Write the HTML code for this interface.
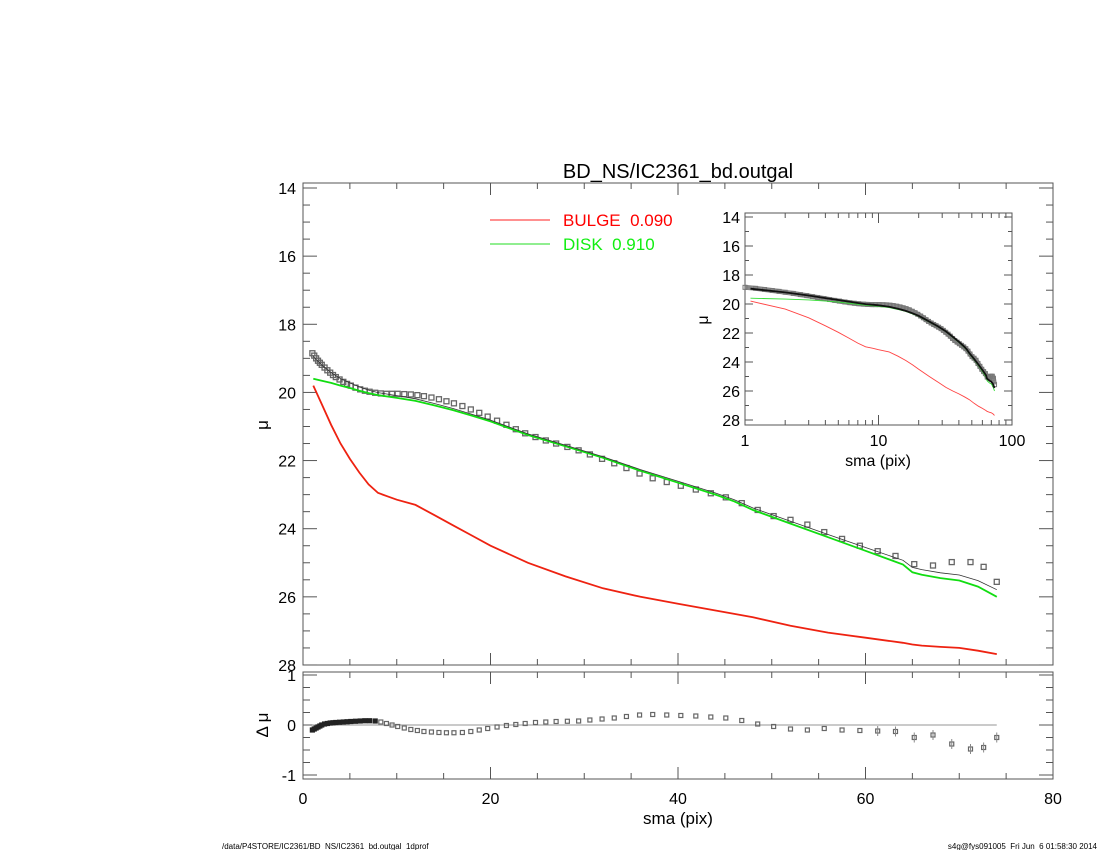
<!DOCTYPE html>
<html><head><meta charset="utf-8"><style>
body{margin:0;background:#fff;}
svg{display:block;font-family:"Liberation Sans",sans-serif;}
text{white-space:pre;}
</style></head><body>
<svg id="chart" width="1100" height="850" viewBox="0 0 1100 850">
<rect x="0" y="0" width="1100" height="850" fill="#fff"/>
<text x="678" y="178" font-size="20" text-anchor="middle">BD_NS/IC2361_bd.outgal</text>
<g id="main"></g>
<g id="resid"></g>
<g id="inset"></g>
<g>
<line x1="490" y1="220" x2="550" y2="220" stroke="#f22" stroke-width="1"/>
<text x="563" y="226" font-size="17" fill="#f00" xml:space="preserve">BULGE  0.090</text>
<line x1="490" y1="244" x2="550" y2="244" stroke="#2d2" stroke-width="1"/>
<text x="563" y="250" font-size="17" fill="#1e1" xml:space="preserve">DISK  0.910</text>
</g>
<text x="678" y="824" font-size="17" text-anchor="middle">sma (pix)</text>
<text transform="translate(268,425) rotate(-90)" font-size="17" text-anchor="middle">μ</text>
<text transform="translate(268,725) rotate(-90)" font-size="17" text-anchor="middle" xml:space="preserve">Δ μ</text>
<text x="222" y="849" font-size="8">/data/P4STORE/IC2361/BD_NS/IC2361_bd.outgal_1dprof</text>
<text x="1097" y="849" font-size="8" text-anchor="end" xml:space="preserve">s4g@fys091005  Fri Jun  6 01:58:30 2014</text>
</svg>
<script>
const sma=[1.0,1.2,1.4,1.6,1.8,2.0,2.3,2.6,2.9,3.2,3.5,3.9,4.3,4.7,5.1,5.6,6.1,6.6,7.1,7.7,8.3,8.9,9.5,10.1,10.8,11.5,12.2,12.9,13.7,14.5,15.3,16.1,17.0,17.9,18.8,19.7,20.7,21.7,22.7,23.7,24.8,25.9,27.0,28.2,29.4,30.6,31.9,33.2,34.5,35.9,37.3,38.8,40.3,41.9,43.5,45.1,46.8,48.5,50.2,52.0,53.8,55.6,57.5,59.4,61.3,63.2,65.2,67.2,69.2,71.2,72.6,74.0];
const muObs=[18.85,18.92,19.0,19.07,19.13,19.19,19.27,19.35,19.42,19.49,19.55,19.62,19.69,19.75,19.8,19.86,19.91,19.95,19.98,20.01,20.03,20.04,20.04,20.04,20.05,20.06,20.08,20.11,20.15,20.2,20.26,20.32,20.4,20.5,20.6,20.71,20.83,20.95,21.08,21.2,21.31,21.41,21.5,21.6,21.7,21.82,21.95,22.08,22.22,22.38,22.52,22.63,22.74,22.85,22.96,23.08,23.25,23.45,23.63,23.74,23.88,24.1,24.3,24.5,24.66,24.8,25.04,25.08,24.98,24.98,25.12,25.56];
const resid=[-0.1,-0.08,-0.06,-0.04,-0.02,0.0,0.02,0.03,0.04,0.045,0.05,0.055,0.06,0.065,0.07,0.075,0.08,0.085,0.085,0.08,0.06,0.03,0.0,-0.03,-0.06,-0.09,-0.11,-0.13,-0.14,-0.15,-0.155,-0.155,-0.15,-0.13,-0.1,-0.07,-0.04,-0.01,0.01,0.03,0.05,0.06,0.07,0.075,0.08,0.1,0.12,0.14,0.17,0.2,0.21,0.2,0.19,0.18,0.16,0.14,0.09,0.02,-0.03,-0.08,-0.1,-0.07,-0.1,-0.11,-0.12,-0.13,-0.25,-0.2,-0.38,-0.48,-0.45,-0.25];
const compX=[1.1,2,3,4,5,6,7,8,9,10,12,14,16,18,20,24,28,32,36,40,44,46,48,52,56,60,64,65,66,68,70,72,74];
const muBulge=[19.8,20.35,20.95,21.5,21.95,22.35,22.7,22.95,23.05,23.15,23.3,23.6,23.9,24.2,24.5,25.0,25.4,25.75,26.0,26.2,26.4,26.5,26.6,26.85,27.05,27.2,27.35,27.4,27.43,27.47,27.5,27.58,27.68];
const muDisk=[19.6,19.66,19.72,19.8,19.87,19.95,20.02,20.08,20.12,20.16,20.25,20.38,20.52,20.68,20.85,21.25,21.58,21.92,22.3,22.65,23.0,23.2,23.45,23.85,24.25,24.65,25.05,25.28,25.35,25.45,25.52,25.7,26.0];
const xTicks=[0,20,40,60,80];
const yTicks=[14,16,18,20,22,24,26,28];
const rTicks=[1,0,-1];
const iyTicks=[14,16,18,20,22,24,26,28];
const ixTicks=[1,10,100];

const NS='http://www.w3.org/2000/svg';
function mk(parent,tag,attrs){const e=document.createElementNS(NS,tag);for(const k in attrs)e.setAttribute(k,attrs[k]);parent.appendChild(e);return e;}
const X=v=>303+v*(1053-303)/80;
const Y=m=>188+(m-14)*34.07;
const R=d=>725-d*50;
const IX=v=>745+Math.log10(v)*133.5;
const IY=m=>217+(m-14)*14.5;
const muModel=muBulge.map((b,i)=>-2.5*Math.log10(Math.pow(10,-0.4*b)+Math.pow(10,-0.4*muDisk[i])));
const AX='#555';

const main=document.getElementById('main');
const resG=document.getElementById('resid');
const ins=document.getElementById('inset');

function box(g,x0,y0,x1,y1,name){const r=mk(g,'rect',{x:x0,y:y0,width:x1-x0,height:y1-y0,fill:'none',stroke:AX,'stroke-width':1});

}

box(main,303,183,1053,665,'main-plot-frame');
for(let v=0;v<=80;v+=5){const maj=v%20===0;const L=maj?12:6;
 const t1=mk(main,'line',{x1:X(v),x2:X(v),y1:665,y2:665-L,stroke:AX});
 
 
 const t2=mk(main,'line',{x1:X(v),x2:X(v),y1:183,y2:183+L,stroke:AX});
 
 
 const t3=mk(resG,'line',{x1:X(v),x2:X(v),y1:779,y2:779-L,stroke:AX});
 
 
 const t4=mk(resG,'line',{x1:X(v),x2:X(v),y1:672,y2:672+L,stroke:AX});
 
 }
for(let m=14;m<=28.001;m+=0.5){const maj=Math.abs(m-Math.round(m/2)*2)<0.01;const L=maj?14:7;
 const t1=mk(main,'line',{x1:303,x2:303+L,y1:Y(m),y2:Y(m),stroke:AX});
 
 
 const t2=mk(main,'line',{x1:1053,x2:1053-L,y1:Y(m),y2:Y(m),stroke:AX});
 
 }
yTicks.forEach(t=>{const e=mk(main,'text',{x:296,y:Y(t)+6,'font-size':16,'text-anchor':'end'});e.textContent=t;
 
 });
xTicks.forEach(t=>{const e=mk(resG,'text',{x:X(t),y:804,'font-size':16,'text-anchor':'middle'});e.textContent=t;
 
 });

function pline(g,xs,ys,fx,fy,color,w,name){const d=xs.map((x,i)=>(i?'L':'M')+fx(x).toFixed(1)+','+fy(ys[i]).toFixed(1)).join('');
 const p=mk(g,'path',{d:d,fill:'none',stroke:color,'stroke-width':w});
 
 }

sma.forEach((s,i)=>{const r=mk(main,'rect',{x:X(s)-2.5,y:Y(muObs[i])-2.5,width:5,height:5,fill:'none',stroke:'#666','stroke-width':1.3});
 
 });
pline(main,compX,muBulge,X,Y,'#e21',1.8,'bulge-line');
pline(main,compX,muDisk,X,Y,'#1d1',1.8,'disk-line');
pline(main,compX,muModel,X,Y,'#333',0.8,'model-total-line');

box(resG,303,672,1053,779,'residual-plot-frame');
for(let d=-1;d<=1.001;d+=0.25){const maj=Math.abs(d-Math.round(d))<0.01;const L=maj?14:7;
 const t1=mk(resG,'line',{x1:303,x2:303+L,y1:R(d),y2:R(d),stroke:AX});
 
 
 const t2=mk(resG,'line',{x1:1053,x2:1053-L,y1:R(d),y2:R(d),stroke:AX});
 
 }
rTicks.forEach(t=>{const e=mk(resG,'text',{x:296,y:R(t)+6,'font-size':16,'text-anchor':'end'});e.textContent=t;
 
 });
const zl=mk(resG,'line',{x1:X(sma[0]),x2:X(sma[sma.length-1]),y1:R(0),y2:R(0),stroke:'#aaa','stroke-width':1.2});


sma.forEach((s,i)=>{const big=s<8;const r=mk(resG,'rect',{x:X(s)-2,y:R(resid[i])-2,width:4,height:4,fill:big?'#222':'none',stroke:big?'#222':'#666','stroke-width':1.2});
 
 
 if(s>60){const eb=mk(resG,'line',{x1:X(s),x2:X(s),y1:R(resid[i])-5,y2:R(resid[i])+5,stroke:'#888','stroke-width':1});
 
 }});

box(ins,745,213,1012,425,'inset-plot-frame');
for(let dec=1;dec<100;dec*=10){for(let k=1;k<10;k++){const v=dec*k;const L=k===1?10:5;
 const t1=mk(ins,'line',{x1:IX(v),x2:IX(v),y1:425,y2:425-L,stroke:AX});
 
 
 const t2=mk(ins,'line',{x1:IX(v),x2:IX(v),y1:213,y2:213+L,stroke:AX});
 
 }}
for(let m=14;m<=28.001;m+=1){const L=(m%2===0)?8:4;
 const t1=mk(ins,'line',{x1:745,x2:745+L,y1:IY(m),y2:IY(m),stroke:AX});
 
 
 const t2=mk(ins,'line',{x1:1012,x2:1012-L,y1:IY(m),y2:IY(m),stroke:AX});
 
 }
iyTicks.forEach(t=>{const e=mk(ins,'text',{x:740,y:IY(t)+6,'font-size':16,'text-anchor':'end'});e.textContent=t;
 
 });
ixTicks.forEach(t=>{const e=mk(ins,'text',{x:IX(t),y:446,'font-size':16,'text-anchor':'middle'});e.textContent=t;
 
 });
const ixl=mk(ins,'text',{x:878,y:466,'font-size':16,'text-anchor':'middle'});ixl.textContent='sma (pix)';


const iyl=mk(ins,'text',{transform:'translate(708,320) rotate(-90)','font-size':16,'text-anchor':'middle'});iyl.textContent='μ';


pline(ins,sma,muObs,IX,IY,'#888',5,'inset-observed-band');
sma.forEach((s,i)=>{const r=mk(ins,'rect',{x:IX(s)-2,y:IY(muObs[i])-2,width:4,height:4,fill:'none',stroke:'#777','stroke-width':1});
 
 });
pline(ins,compX,muBulge,IX,IY,'#f44',0.9,'inset-bulge-line');
pline(ins,compX,muDisk,IX,IY,'#3d3',0.9,'inset-disk-line');
pline(ins,compX,muModel,IX,IY,'#111',1.8,'inset-model-line');
</script>
</body></html>
